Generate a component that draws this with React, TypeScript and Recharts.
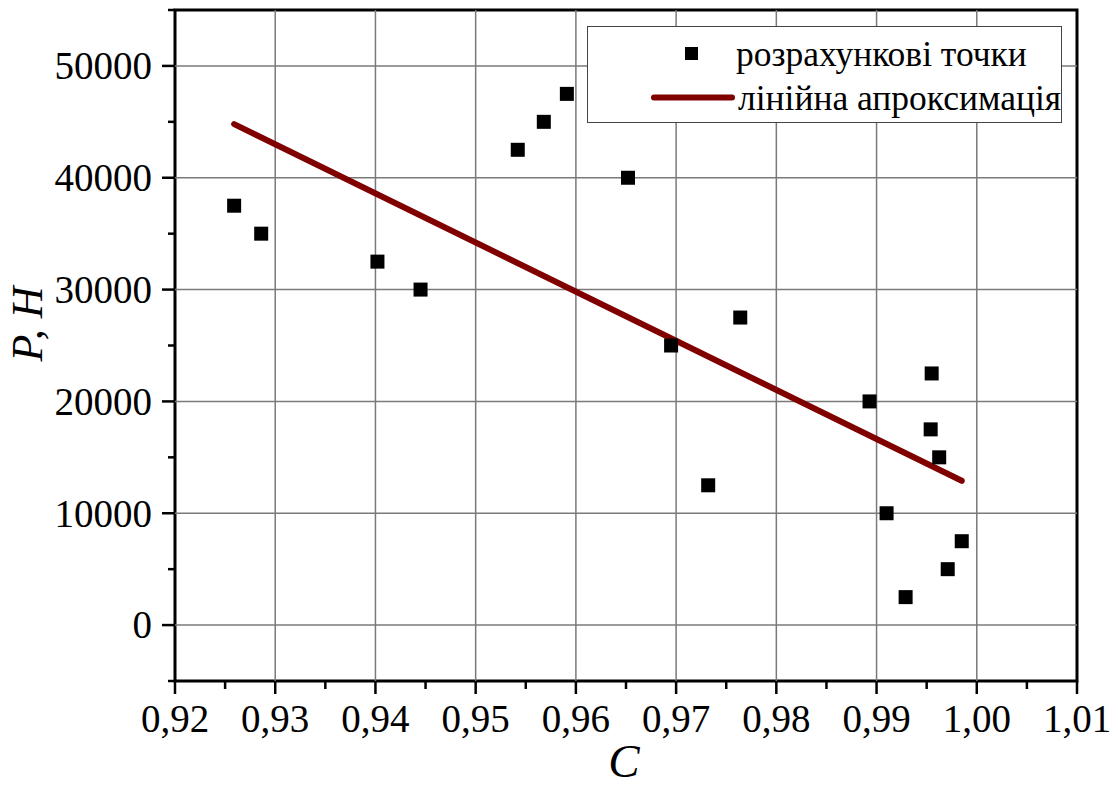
import React from 'react';
import {
  ScatterChart,
  Scatter,
  XAxis,
  YAxis,
  ZAxis,
  ReferenceLine,
  ReferenceArea,
  Legend,
} from 'recharts';

// Computed points: C (efficiency) and P (force, N)
const cValues = [
  0.9259, 0.9286, 0.9402, 0.9445, 0.9542, 0.9568, 0.9591, 0.9652, 0.9695, 0.9732,
  0.9764, 0.9893, 0.991, 0.9929, 0.9955, 0.9954, 0.99625, 0.9971, 0.9985,
];
const pValues = [
  37500, 35000, 32500, 30000, 42500, 45000, 47500, 40000, 25000, 12500,
  27500, 20000, 10000, 2500, 22500, 17500, 15000, 5000, 7500,
];

// Linear approximation endpoints
const fitC = [0.9259, 0.9985];
const fitP = [44800, 12900];

// Axis ticks
const xMajor = [0.92, 0.93, 0.94, 0.95, 0.96, 0.97, 0.98, 0.99, 1.0, 1.01];
const xMinor = [0.925, 0.935, 0.945, 0.955, 0.965, 0.975, 0.985, 0.995, 1.005];
const yMajor = [0, 10000, 20000, 30000, 40000, 50000];
const yMinor = [-5000, 5000, 15000, 25000, 35000, 45000, 55000];

const seriesNames = ['розрахункові точки', 'лінійна апроксимація'];

const points = cValues.map((c, i) => ({ c, p: pValues[i] }));
const fitLine = fitC.map((c, i) => ({ c, p: fitP[i] }));

const FONT = '"Liberation Serif", "Times New Roman", serif';
const GRID = '#7a7a7a';
const LINE_COLOR = '#800000';

const isMajor = (list: number[], v: number) => list.some((m) => Math.abs(m - v) < 1e-9);

const XTick = (props: any) => {
  const { x, y, payload } = props;
  const major = isMajor(xMajor, payload.value);
  return (
    <g>
      <line x1={x} y1={y} x2={x} y2={y + (major ? 13 : 8)} stroke="#000" strokeWidth={2.5} />
      {major && (
        <text x={x} y={y + 51} textAnchor="middle" fontFamily={FONT} fontSize={39} fill="#000">
          {payload.value.toFixed(2).replace('.', ',')}
        </text>
      )}
    </g>
  );
};

const YTick = (props: any) => {
  const { x, y, payload } = props;
  const major = isMajor(yMajor, payload.value);
  return (
    <g>
      <line x1={x} y1={y} x2={x - (major ? 13 : 7)} y2={y} stroke="#000" strokeWidth={2.5} />
      {major && (
        <text
          x={x - 23}
          y={y}
          dy="0.34em"
          textAnchor="end"
          fontFamily={FONT}
          fontSize={39}
          fill="#000"
        >
          {String(payload.value)}
        </text>
      )}
    </g>
  );
};

const Square = (props: any) => {
  const { cx, cy } = props;
  if (cx == null || cy == null) return <g />;
  return <rect x={cx - 7} y={cy - 7} width={14} height={14} fill="#000" />;
};

const LegendBox = () => (
  <div
    style={{
      width: 475,
      height: 97,
      boxSizing: 'border-box',
      border: '1.5px solid #444',
      background: '#fff',
      position: 'relative',
    }}
  >
    <svg width={475} height={97} style={{ position: 'absolute', left: 0, top: 0 }}>
      <rect x={97} y={20} width={13} height={13} fill="#000" />
      <line
        x1={66}
        y1={70.5}
        x2={144}
        y2={70.5}
        stroke={LINE_COLOR}
        strokeWidth={6}
        strokeLinecap="round"
      />
      <text x={148} y={39} fontFamily={FONT} fontSize={35.5} fill="#000">
        {seriesNames[0]}
      </text>
      <text x={150} y={83} fontFamily={FONT} fontSize={35.5} fill="#000">
        {seriesNames[1]}
      </text>
    </svg>
  </div>
);

export default function App() {
  return (
    <div style={{ position: 'absolute', left: 0, top: 0, background: '#fff' }}>
      <ScatterChart
        width={1118}
        height={787}
        margin={{ top: 10, right: 41, bottom: 0, left: 0 }}
      >
        <XAxis
          type="number"
          dataKey="c"
          domain={[0.92, 1.01]}
          ticks={[...xMajor, ...xMinor].sort((a, b) => a - b)}
          interval={0}
          allowDataOverflow
          axisLine={false}
          tickLine={false}
          tickSize={0}
          tickMargin={0}
          tick={<XTick />}
          height={106}
          label={(p: any) => {
            const vb = p.viewBox || { x: 175, width: 902 };
            return (
              <text
                x={vb.x + vb.width / 2 - 2}
                y={777}
                textAnchor="middle"
                fontFamily={FONT}
                fontStyle="italic"
                fontSize={47}
                fill="#000"
              >
                C
              </text>
            );
          }}
        />
        <YAxis
          type="number"
          dataKey="p"
          domain={[-5000, 55000]}
          ticks={[...yMajor, ...yMinor].sort((a, b) => a - b)}
          interval={0}
          allowDataOverflow
          axisLine={false}
          tickLine={false}
          tickSize={0}
          tickMargin={0}
          tick={<YTick />}
          width={175}
          label={() => (
            <text
              x={42}
              y={324}
              transform="rotate(-90, 42, 324)"
              textAnchor="middle"
              fontFamily={FONT}
              fontStyle="italic"
              fontSize={44}
              fill="#000"
            >
              P, H
            </text>
          )}
        />
        <ZAxis range={[196, 196]} />
        {xMajor.slice(1, -1).map((v) => (
          <ReferenceLine key={`gx${v}`} x={v} stroke={GRID} strokeWidth={1.5} />
        ))}
        {yMajor.map((v) => (
          <ReferenceLine key={`gy${v}`} y={v} stroke={GRID} strokeWidth={1.5} />
        ))}
        <ReferenceArea
          x1={0.92}
          x2={1.01}
          y1={-5000}
          y2={55000}
          fill="none"
          fillOpacity={0}
          stroke="#000"
          strokeWidth={3}
        />
        <Legend
          layout="vertical"
          align="center"
          verticalAlign="middle"
          wrapperStyle={{ position: 'absolute', left: 587, top: 26, width: 475, height: 97 }}
          content={() => <LegendBox />}
        />
        <Scatter
          name={seriesNames[1]}
          data={fitLine}
          line={{ stroke: LINE_COLOR, strokeWidth: 6, strokeLinecap: 'round' }}
          lineType="joint"
          shape={() => <g />}
          isAnimationActive={false}
        />
        <Scatter
          name={seriesNames[0]}
          data={points}
          shape={<Square />}
          isAnimationActive={false}
        />
      </ScatterChart>
    </div>
  );
}
